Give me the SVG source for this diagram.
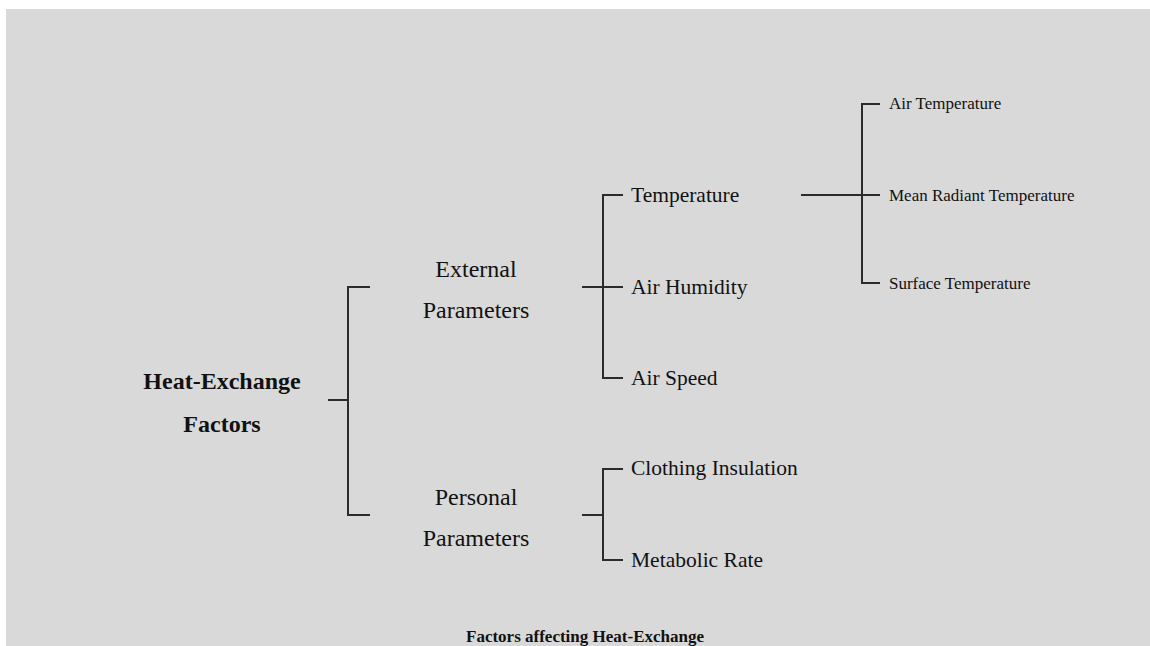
<svg xmlns="http://www.w3.org/2000/svg" width="1150" height="646" viewBox="0 0 1150 646">
  <style>
    .ln { stroke: #2b2b2b; stroke-width: 2; fill: none; }
    .lvl1 { font-family: "Liberation Serif", "Times New Roman", serif; font-size: 24px; fill: #111; text-anchor: middle; }
    .root { font-family: "Liberation Serif", "Times New Roman", serif; font-size: 24px; font-weight: bold; fill: #111; text-anchor: middle; }
    .lvl2 { font-family: "Liberation Serif", "Times New Roman", serif; font-size: 21.5px; fill: #111; }
    .lvl3 { font-family: "Liberation Serif", "Times New Roman", serif; font-size: 17px; fill: #111; }
    .cap { font-family: "Liberation Serif", "Times New Roman", serif; font-size: 17px; font-weight: bold; fill: #111; text-anchor: middle; }
  </style>
  <rect x="0" y="0" width="1150" height="646" fill="#ffffff"/>
  <rect x="6" y="9" width="1144" height="637" fill="#d9d9d9"/>

  <g id="connectors">
    <!-- root bracket -->
    <path class="ln" d="M328 400 H348 M370 287 H348 V515 H370"/>
    <!-- external parameters bracket -->
    <path class="ln" d="M582 287 H623 M623 195 H603 V378 H623"/>
    <!-- personal parameters bracket -->
    <path class="ln" d="M582 515 H603 M623 469 H603 V560 H623"/>
    <!-- temperature bracket -->
    <path class="ln" d="M801 195 H880 M880 104 H862 V283 H880"/>
  </g>

  <g id="node-root">
    <text class="root" x="222" y="389">Heat-Exchange</text>
    <text class="root" x="222" y="432">Factors</text>
  </g>
  <g id="node-external">
    <text class="lvl1" x="476" y="277">External</text>
    <text class="lvl1" x="476" y="318">Parameters</text>
  </g>
  <g id="node-personal">
    <text class="lvl1" x="476" y="505">Personal</text>
    <text class="lvl1" x="476" y="546">Parameters</text>
  </g>
  <g id="node-temperature"><text class="lvl2" x="631" y="202">Temperature</text></g>
  <g id="node-air-humidity"><text class="lvl2" x="631" y="294">Air Humidity</text></g>
  <g id="node-air-speed"><text class="lvl2" x="631" y="385">Air Speed</text></g>
  <g id="node-clothing"><text class="lvl2" x="631" y="475">Clothing Insulation</text></g>
  <g id="node-metabolic"><text class="lvl2" x="631" y="567">Metabolic Rate</text></g>
  <g id="node-air-temperature"><text class="lvl3" x="889" y="109">Air Temperature</text></g>
  <g id="node-mean-radiant"><text class="lvl3" x="889" y="201">Mean Radiant Temperature</text></g>
  <g id="node-surface"><text class="lvl3" x="889" y="289">Surface Temperature</text></g>

  <g id="caption"><text class="cap" x="585" y="642">Factors affecting Heat-Exchange</text></g>
</svg>
